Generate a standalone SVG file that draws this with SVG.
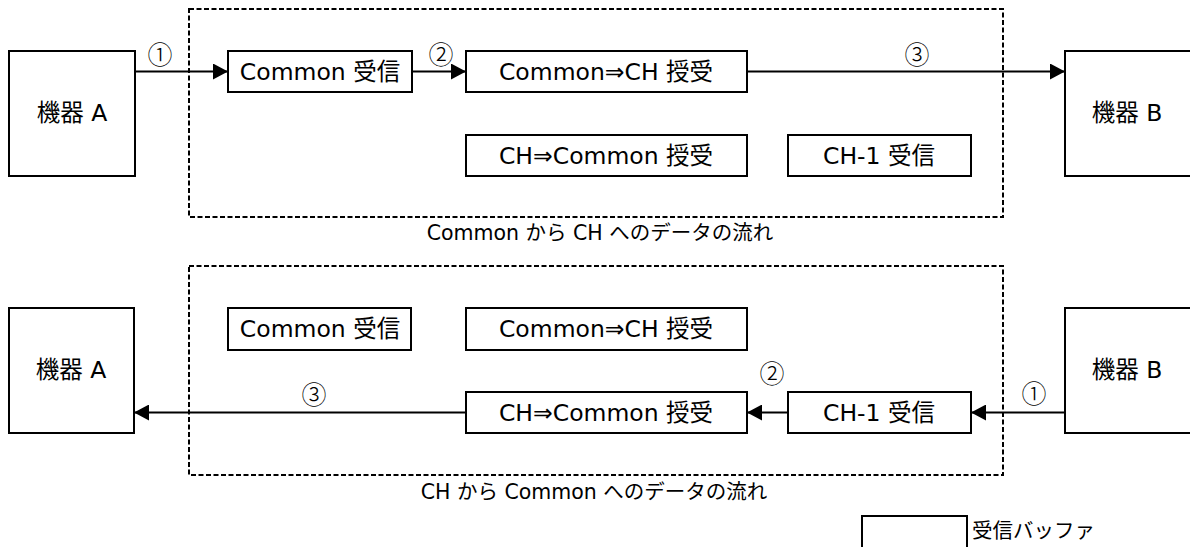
<svg xmlns="http://www.w3.org/2000/svg" width="1190" height="547" viewBox="0 0 1190 547">
<defs>
<style>
.box{fill:#fff;stroke:#000;stroke-width:2}
.dash{fill:none;stroke:#000;stroke-width:2;stroke-dasharray:5 2.5}
.lbl{font-family:"DejaVu Sans","Noto Sans CJK JP",sans-serif;font-size:23.5px;fill:#000;text-anchor:middle}
.num{font-family:"Noto Sans CJK JP",sans-serif;font-size:25px;font-weight:300;fill:#000;text-anchor:middle}
.cap{font-family:"DejaVu Sans","Noto Sans CJK JP",sans-serif;font-size:20.5px;fill:#000;text-anchor:middle}
.leg{font-family:"Noto Sans CJK JP",sans-serif;font-size:20.5px;fill:#000}
.ln{stroke:#000;stroke-width:2;fill:none}
</style>
<marker id="ah" viewBox="0 0 15 16" refX="15" refY="8" markerWidth="15" markerHeight="16" markerUnits="userSpaceOnUse" orient="auto">
<path d="M0,0 L15,8 L0,16 Z" fill="#000"/>
</marker>
</defs>
<rect width="1190" height="547" fill="#fff"/>

<!-- Top diagram -->
<g id="frame-top"><rect class="dash" x="189" y="9" width="814" height="208"/></g>
<g id="cap-top"><text class="cap" x="600" y="240">Common から CH へのデータの流れ</text></g>
<g id="top-devA"><rect class="box" x="9" y="51" width="126" height="125"/><text class="lbl" x="72" y="121">機器 A</text></g>
<g id="top-devB"><rect class="box" x="1065" y="51" width="127" height="125"/><text class="lbl" x="1127" y="121">機器 B</text></g>
<g id="top-common-rx"><rect class="box" x="228" y="51" width="184" height="41"/><text class="lbl" x="320" y="80">Common 受信</text></g>
<g id="top-common-ch"><rect class="box" x="466" y="51" width="281" height="41"/><text class="lbl" x="606" y="80">Common⇒CH 授受</text></g>
<g id="top-ch-common"><rect class="box" x="466" y="135" width="281" height="41"/><text class="lbl" x="606" y="164">CH⇒Common 授受</text></g>
<g id="top-ch1-rx"><rect class="box" x="788" y="135" width="183" height="41"/><text class="lbl" x="879" y="164">CH-1 受信</text></g>

<!-- Bottom diagram -->
<g id="frame-bottom"><rect class="dash" x="189" y="266" width="814" height="209"/></g>
<g id="cap-bottom"><text class="cap" x="594" y="499">CH から Common へのデータの流れ</text></g>
<g id="bot-devA"><rect class="box" x="9" y="308" width="125" height="125"/><text class="lbl" x="71" y="378">機器 A</text></g>
<g id="bot-devB"><rect class="box" x="1065" y="308" width="127" height="125"/><text class="lbl" x="1127" y="378">機器 B</text></g>
<g id="bot-common-rx"><rect class="box" x="228" y="308" width="183" height="42"/><text class="lbl" x="320" y="337">Common 受信</text></g>
<g id="bot-common-ch"><rect class="box" x="466" y="308" width="281" height="42"/><text class="lbl" x="606" y="337">Common⇒CH 授受</text></g>
<g id="bot-ch-common"><rect class="box" x="466" y="392" width="281" height="41"/><text class="lbl" x="606" y="421">CH⇒Common 授受</text></g>
<g id="bot-ch1-rx"><rect class="box" x="788" y="392" width="183" height="41"/><text class="lbl" x="879" y="421">CH-1 受信</text></g>

<!-- Legend -->
<g id="legend"><rect class="box" x="862" y="516" width="105" height="40"/><text class="leg" x="972" y="538">受信バッファ</text></g>

<!-- Connectors -->
<g id="connectors">
<line class="ln" x1="135" y1="71.5" x2="228" y2="71.5" marker-end="url(#ah)"/>
<line class="ln" x1="412" y1="71.5" x2="466" y2="71.5" marker-end="url(#ah)"/>
<line class="ln" x1="747" y1="71.5" x2="1065" y2="71.5" marker-end="url(#ah)"/>
<line class="ln" x1="1065" y1="412.5" x2="971" y2="412.5" marker-end="url(#ah)"/>
<line class="ln" x1="788" y1="412.5" x2="747" y2="412.5" marker-end="url(#ah)"/>
<line class="ln" x1="466" y1="412.5" x2="134" y2="412.5" marker-end="url(#ah)"/>
<text class="num" x="160" y="64">①</text>
<text class="num" x="441" y="64">②</text>
<text class="num" x="917" y="64">③</text>
<text class="num" x="1034" y="403">①</text>
<text class="num" x="772" y="383">②</text>
<text class="num" x="314" y="404">③</text>
</g>
</svg>
